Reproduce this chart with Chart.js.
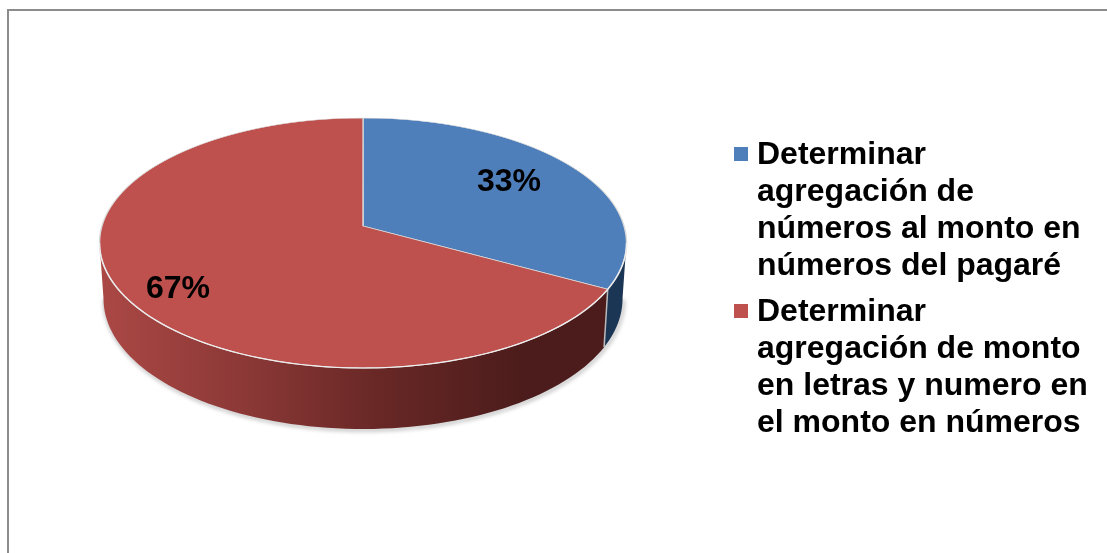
<!DOCTYPE html>
<html>
<head>
<meta charset="utf-8">
<style>
  html, body { margin: 0; padding: 0; background: #fff; overflow: hidden; }
  canvas { display: block; }
</style>
<script src="https://cdn.jsdelivr.net/npm/chart.js@4/dist/chart.umd.min.js"></script>
</head>
<body>
<canvas id="myChart" width="1107" height="553"></canvas>
<script>
'use strict';
const categoryLines = [
    ['Determinar', 'agregación de', 'números al monto en', 'números del pagaré'],
    ['Determinar', 'agregación de monto', 'en letras y numero en', 'el monto en números'],
];
const seriesValues = [33, 67];
const sliceColors = ['#4F7FBB', '#BE504D'];

// perspective of the disc on screen
const cx = 363, apexY = 226, radiusX = 261;
const farR = 108, nearR = 142;
const persp = (nearR - farR) / (nearR + farR);
const depthA = nearR * (1 - persp);
const font = 'bold 32px "Liberation Sans", Arial, sans-serif';

function topPoint(angle) {
    const u = Math.cos(angle), v = Math.sin(angle), w = 1 / (1 - persp * v);
    return { x: cx + radiusX * u * w, y: apexY + depthA * v * w, v: v };
}
function bottomPoint(angle) {
    const p = topPoint(angle);
    return { x: cx + (p.x - cx) * 0.985, y: p.y + 55 + 6 * p.v };
}

function wall(ctx, start, end, fill) {
    ctx.beginPath();
    for (let i = 0; i <= 80; i++) {
        const p = topPoint(start + (end - start) * i / 80);
        if (i === 0) ctx.moveTo(p.x, p.y); else ctx.lineTo(p.x, p.y);
    }
    for (let i = 80; i >= 0; i--) {
        const p = bottomPoint(start + (end - start) * i / 80);
        ctx.lineTo(p.x, p.y);
    }
    ctx.closePath();
    ctx.fillStyle = fill;
    ctx.fill();
}

function rim(ctx, pointFn, start, end, color, width) {
    ctx.beginPath();
    for (let i = 0; i <= 120; i++) {
        const p = pointFn(start + (end - start) * i / 120);
        if (i === 0) ctx.moveTo(p.x, p.y); else ctx.lineTo(p.x, p.y);
    }
    ctx.strokeStyle = color;
    ctx.lineWidth = width;
    ctx.stroke();
}

const discPlugin = {
    id: 'disc',
    beforeDraw(chart) {
        const ctx = chart.ctx;
        ctx.save();
        ctx.fillStyle = '#fff';
        ctx.fillRect(0, 0, chart.width, chart.height);
        ctx.strokeStyle = '#8c8c8c';
        ctx.lineWidth = 2;
        ctx.strokeRect(8, 10, 1300, 800);
        ctx.restore();
    },
    beforeDatasetDraw(chart, args) {
        const ctx = chart.ctx;
        const arcs = args.meta.data;
        const el = arcs[0];
        const R = el.outerRadius;
        const left = Math.asin(persp), right = Math.PI - left;
        const blueEnd = arcs[0].endAngle;

        // soft shadow under the wall
        ctx.save();
        ctx.shadowColor = 'rgba(0,0,0,0.55)';
        ctx.shadowBlur = 4;
        ctx.shadowOffsetX = 1;
        ctx.shadowOffsetY = 1;
        rim(ctx, bottomPoint, left, right, '#d8d8d8', 1.5);
        ctx.restore();

        // side walls
        const redFill = ctx.createLinearGradient(100, 0, 600, 0);
        redFill.addColorStop(0, '#AB4845');
        redFill.addColorStop(0.3, '#8A3836');
        redFill.addColorStop(0.55, '#692826');
        redFill.addColorStop(0.85, '#4B1C1B');
        redFill.addColorStop(1, '#4B1C1B');
        ctx.save();
        wall(ctx, left, blueEnd, '#1B3554');
        wall(ctx, blueEnd, right, redFill);
        const a = topPoint(blueEnd), b = bottomPoint(blueEnd);
        ctx.beginPath();
        ctx.moveTo(a.x, a.y);
        ctx.lineTo(b.x, b.y);
        ctx.strokeStyle = '#b9b9b9';
        ctx.lineWidth = 1.5;
        ctx.stroke();
        ctx.restore();

        // top face: one pixel row at a time through the arc elements
        for (let row = apexY - farR - 2; row < apexY + nearR + 2; row++) {
            const yc = row + 0.5 - apexY;
            const v = yc / (depthA + persp * yc);
            if (Math.abs(v) > 1.01) continue;
            const w = 1 / (1 - persp * v);
            ctx.save();
            ctx.beginPath();
            ctx.rect(0, row, chart.width, 1);
            ctx.clip();
            ctx.translate(cx, row + 0.5);
            ctx.scale(radiusX * w / R, depthA * w * w / R);
            ctx.translate(-el.x, -(el.y + R * v));
            args.meta.controller.draw();
            ctx.restore();
        }
        rim(ctx, topPoint, left, right, '#eeeeee', 1.2);
        return false;
    },
    afterDraw(chart) {
        const ctx = chart.ctx;
        ctx.save();
        ctx.font = font;
        ctx.fillStyle = '#000';
        ctx.textBaseline = 'alphabetic';

        // data labels
        ctx.textAlign = 'center';
        const labelSpots = [[509, 191], [178, 298]];
        seriesValues.forEach((val, i) => {
            ctx.fillText(val + '%', labelSpots[i][0], labelSpots[i][1]);
        });

        // legend
        ctx.textAlign = 'left';
        const firstBase = [164, 321];
        categoryLines.forEach((lines, i) => {
            ctx.fillStyle = sliceColors[i];
            ctx.fillRect(734, firstBase[i] - 17, 14, 14);
            ctx.fillStyle = '#000';
            lines.forEach((line, j) => {
                ctx.fillText(line, 757, firstBase[i] + j * 37);
            });
        });
        ctx.restore();
    },
};

new Chart(document.getElementById('myChart').getContext('2d'), {
    type: 'pie',
    data: {
        labels: categoryLines.map(l => l.join(' ')),
        datasets: [{
            data: seriesValues,
            backgroundColor: sliceColors,
            borderColor: '#d9d9d9',
            borderWidth: 1.5,
        }],
    },
    options: {
        responsive: false,
        animation: false,
        plugins: {
            legend: { display: false },
            tooltip: { enabled: false },
        },
    },
    plugins: [discPlugin],
});
</script>
</body>
</html>
